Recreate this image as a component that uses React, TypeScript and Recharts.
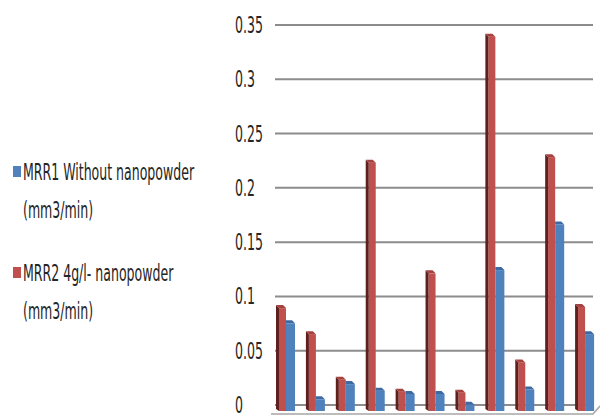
import React from 'react';
import { BarChart, Bar, XAxis, YAxis, CartesianGrid } from 'recharts';

const samples = ['1', '2', '3', '4', '5', '6', '7', '8', '9', '10', '11'];
const mrr1Values = [0.078, 0.008, 0.022, 0.016, 0.013, 0.013, 0.003, 0.127, 0.017, 0.169, 0.068];
const mrr2Values = [0.092, 0.068, 0.026, 0.226, 0.015, 0.124, 0.014, 0.342, 0.042, 0.231, 0.093];
const yTicks = [0, 0.05, 0.1, 0.15, 0.2, 0.25, 0.3, 0.35];
const yTickLabels = ['0', '0.05', '0.1', '0.15', '0.2', '0.25', '0.3', '0.35'];

const MRR1_NAME = ['MRR1 Without nanopowder', '(mm3/min)'];
const MRR2_NAME = ['MRR2 4g/l- nanopowder', '(mm3/min)'];

const COLORS = {
  mrr1: { face: '#4f81bd', top: '#3d6aa3', side: '#2f4f78' },
  mrr2: { face: '#c0504d', top: '#a5413e', side: '#5e1f1d' },
};

const FONT = '"Liberation Sans Narrow", "DejaVu Sans Condensed", "Liberation Sans", sans-serif';
const TEXT_COLOR = '#262626';
const SX = 0.82;
const SY = 1.3;

const stretch = (x: number, y: number) =>
  `translate(${x} ${y}) scale(${SX} ${SY}) translate(${-x} ${-y})`;

const data = samples.map((s, i) => ({ sample: s, mrr1: mrr1Values[i], mrr2: mrr2Values[i] }));

// front column with a dark side strip on the left and a slanted top cap
const FrontColumn = (props: any) => {
  const { x, y, width, height } = props;
  const c = COLORS.mrr2;
  const d = 3;
  const bottom = y + height + 6;
  return (
    <g>
      <rect x={x + d} y={y + d} width={width - d} height={bottom - y - d} fill={c.face} />
      <polygon points={`${x},${y} ${x + d},${y + d} ${x + d},${bottom} ${x},${bottom - 2}`} fill={c.side} />
      <polygon points={`${x},${y} ${x + width - d},${y} ${x + width},${y + d} ${x + d},${y + d}`} fill={c.top} />
    </g>
  );
};

// back column, its side is hidden behind the front one
const BackColumn = (props: any) => {
  const { x, y, width, height } = props;
  const c = COLORS.mrr1;
  const d = 3;
  const bottom = y + height + 6;
  return (
    <g>
      <rect x={x} y={y + d} width={width} height={bottom - y - d} fill={c.face} />
      <polygon points={`${x},${y} ${x + width - d},${y} ${x + width},${y + d} ${x},${y + d}`} fill={c.top} />
    </g>
  );
};

const YTick = (props: any) => {
  const { y, payload } = props;
  const idx = yTicks.indexOf(payload.value);
  return (
    <text
      x={235}
      y={y}
      dy="0.36em"
      textAnchor="start"
      fontFamily={FONT}
      fontSize={17}
      fill={TEXT_COLOR}
      transform={stretch(235, y)}
    >
      {idx >= 0 ? yTickLabels[idx] : payload.value}
    </text>
  );
};

const GridLine = (props: any) => {
  const { x1, x2, y1, index } = props;
  const isFloor = y1 >= 404;
  return (
    <g key={`grid-${index}`}>
      <line x1={x1 + 4} x2={x2 - 7} y1={y1} y2={y1} stroke="#8c8c8c" strokeWidth={2} />
      {isFloor && (
        <polyline
          points={`${x1},${y1 + 9} ${x2 - 7},${y1 + 9} ${x2},${y1 + 1}`}
          fill="none"
          stroke="#a6a6a6"
          strokeWidth={1.5}
        />
      )}
    </g>
  );
};

const LegendEntry = ({ y, color, lines }: { y: number; color: string; lines: string[] }) => (
  <g>
    <rect x={13} y={y - 14} width={8} height={11} fill={color} />
    {lines.map((line, i) => (
      <text
        key={line + i}
        x={23}
        y={y + i * 38}
        fontFamily={FONT}
        fontSize={17}
        fill={TEXT_COLOR}
        transform={stretch(23, y + i * 38)}
      >
        {line}
      </text>
    ))}
  </g>
);

export default function App() {
  return (
    <div style={{ position: 'absolute', left: 0, top: 0, width: 600, height: 419, background: '#fff' }}>
      <BarChart
        width={600}
        height={419}
        data={data}
        margin={{ top: 25, right: 0, bottom: 14, left: 0 }}
        barCategoryGap={5}
        barGap={0}
      >
        <CartesianGrid vertical={false} horizontal={GridLine} />
        <XAxis dataKey="sample" hide />
        <YAxis
          width={271}
          domain={[0, 0.35]}
          ticks={yTicks}
          axisLine={false}
          tickLine={false}
          tick={YTick}
          interval={0}
        />
        <Bar dataKey="mrr2" barSize={10} shape={FrontColumn} isAnimationActive={false} />
        <Bar dataKey="mrr1" barSize={9} shape={BackColumn} isAnimationActive={false} />
      </BarChart>
      <svg width={240} height={419} style={{ position: 'absolute', left: 0, top: 0, pointerEvents: 'none' }}>
        <LegendEntry y={180} color={COLORS.mrr1.face} lines={MRR1_NAME} />
        <LegendEntry y={281} color={COLORS.mrr2.face} lines={MRR2_NAME} />
      </svg>
    </div>
  );
}
